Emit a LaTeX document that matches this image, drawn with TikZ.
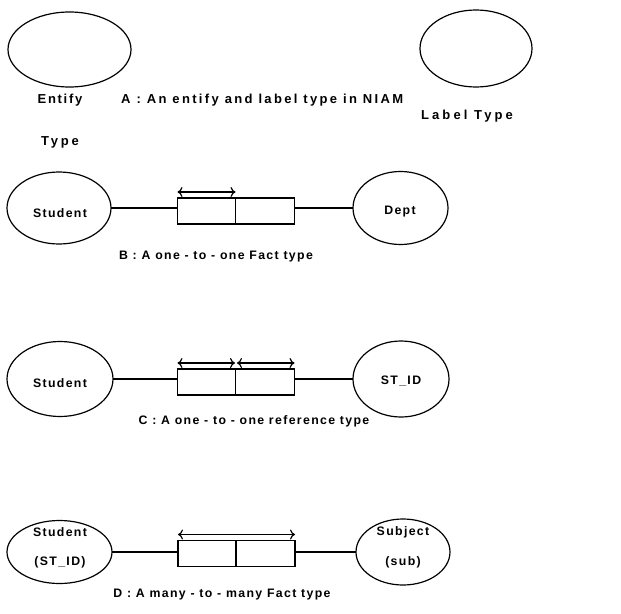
\documentclass[tikz,border=0pt]{standalone}
\usepackage{fontspec}
\setmainfont{Liberation Sans}[BoldFont={* Bold}]
\newfontfamily\lblfont{Liberation Sans Bold}[LetterSpace=11]
\usetikzlibrary{shapes.geometric,arrows.meta}
\begin{document}
\begin{tikzpicture}[x=1pt,y=-1pt,
  objtype/.style={ellipse,draw,line width=1.2pt,inner sep=0pt,outer sep=0pt},
  rolebox/.style={rectangle,draw,line width=1.2pt,inner sep=0pt,outer sep=0pt,
                  minimum height=26pt},
  lbl/.style={inner sep=0pt,font=\lblfont\fontsize{12.3}{14}\selectfont},
  toplbl/.style={inner sep=0pt,font=\lblfont\fontsize{13}{15}\selectfont\addfontfeatures{LetterSpace=#1}},
  link/.style={line width=1.2pt},
  uniq/.style={line width=1.2pt,{To[length=5pt,width=10pt]}-{To[length=5pt,width=10pt]}}]
\useasboundingbox (0,0) rectangle (621,613);

% A: entity type and label type
\node[objtype,minimum width=123pt,minimum height=75pt] (ent) at (69.5,49.5) {};
\node[objtype,minimum width=112pt,minimum height=77pt] (lab) at (476,48.5) {};
\node[toplbl=13] (entT1) at (60,100) {Entify};
\node[toplbl=22] (entT2) at (60,142) {Type};
\node[toplbl=18,anchor=west] (capA) at (121,100) {A : An entify and label type in NIAM};
\node[toplbl=24] (labT) at (467,116) {Label Type};

% B: one-to-one fact type
\node[objtype,minimum width=104pt,minimum height=72pt] (stB) at (59,208) {};
\node[lbl] at (60,213) {Student};
\node[objtype,minimum width=95pt,minimum height=73pt] (dpB) at (400.5,208) {};
\node[lbl] at (400,212) {Dept};
\node[rolebox,minimum width=58pt] (rb1) at (206.5,211) {};
\node[rolebox,minimum width=59pt,anchor=west] (rb2) at (rb1.east) {};
\draw[link] (stB.east) -- (stB.east -| rb1.west);
\draw[link] (rb2.east |- dpB.west) -- (dpB.west);
\draw[uniq] ([yshift=6pt]rb1.north west) -- ([yshift=6pt]rb1.north east);
\node[lbl] (capB) at (216,257) {B : A one - to - one Fact type};

% C: one-to-one reference type
\node[objtype,minimum width=106pt,minimum height=75pt] (stC) at (60,379) {};
\node[lbl] at (60,383) {Student};
\node[objtype,minimum width=96pt,minimum height=76pt] (idC) at (401,379) {};
\node[lbl] at (401,381) {ST\_ID};
\node[rolebox,minimum width=58pt] (rc1) at (206.5,382) {};
\node[rolebox,minimum width=59pt,anchor=west] (rc2) at (rc1.east) {};
\draw[link] (stC.east) -- (stC.east -| rc1.west);
\draw[link] (rc2.east |- idC.west) -- (idC.west);
\draw[uniq] ([yshift=6pt]rc1.north west) -- ([yshift=6pt,xshift=-0.5pt]rc1.north east);
\draw[uniq] ([yshift=6pt,xshift=1.5pt]rc2.north west) -- ([yshift=6pt]rc2.north east);
\node[lbl] (capC) at (254,421) {C : A one - to - one reference type};

% D: many-to-many fact type
\node[objtype,minimum width=105pt,minimum height=63pt] (stD) at (59.5,552) {};
\node[lbl] at (60,532) {Student};
\node[lbl] at (60,562) {(ST\_ID)};
\node[objtype,minimum width=94pt,minimum height=66pt] (sbD) at (403,552) {};
\node[lbl] at (403,532) {Subject};
\node[lbl] at (403,562) {(sub)};
\node[rolebox,minimum width=58pt] (rd1) at (207,553.5) {};
\node[rolebox,minimum width=59pt,anchor=west] (rd2) at (rd1.east) {};
\draw[link] (stD.east) -- (stD.east -| rd1.west);
\draw[link] (rd2.east |- sbD.west) -- (sbD.west);
\draw[uniq] ([yshift=6pt]rd1.north west) -- ([yshift=6pt]rd2.north east);
\node[lbl] (capD) at (222,595) {D : A many - to - many Fact type};
\end{tikzpicture}
\end{document}
